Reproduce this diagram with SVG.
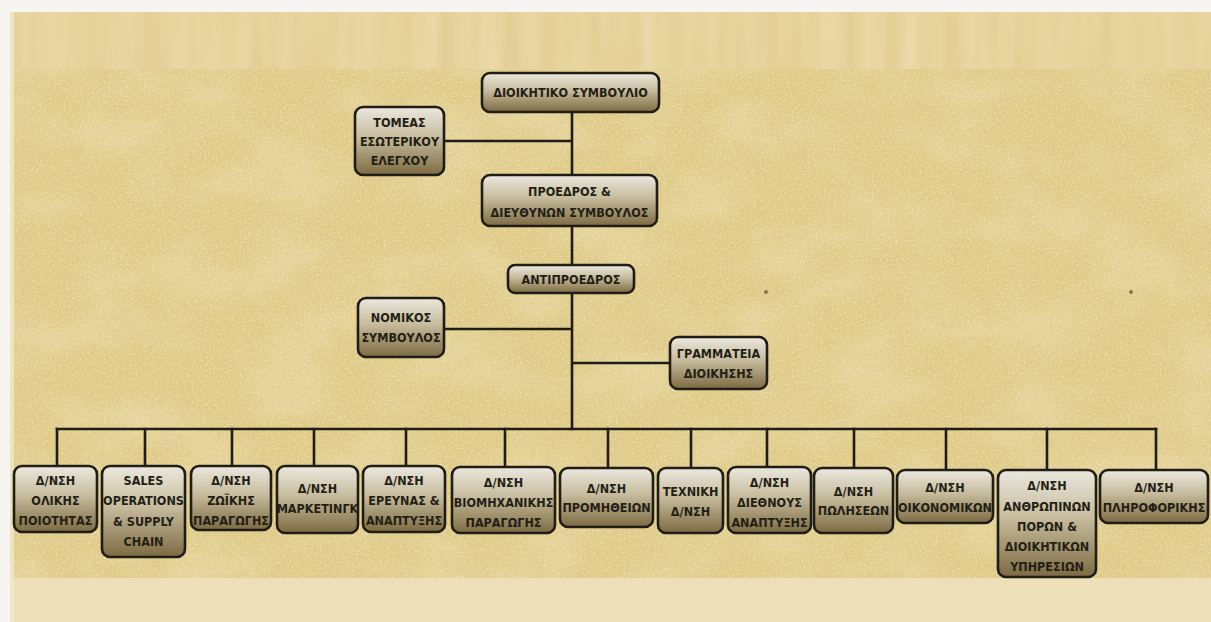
<svg xmlns="http://www.w3.org/2000/svg" width="1211" height="622" viewBox="0 0 1211 622">
<defs>
<linearGradient id="boxg" x1="0" y1="0" x2="0" y2="1">
<stop offset="0" stop-color="#ebe8df"/>
<stop offset="0.45" stop-color="#c6bb9c"/>
<stop offset="1" stop-color="#7d6a42"/>
</linearGradient>
<filter id="grain" x="0" y="0" width="100%" height="100%">
<feTurbulence type="fractalNoise" baseFrequency="0.7" numOctaves="2" seed="4" result="n"/>
<feColorMatrix in="n" type="matrix" values="0 0 0 0 0.8  0 0 0 0 0.67  0 0 0 0 0.26  2.4 0 0 0 -1.05"/>
</filter>
<filter id="grain2" x="0" y="0" width="100%" height="100%">
<feTurbulence type="fractalNoise" baseFrequency="0.5" numOctaves="2" seed="11" result="n"/>
<feColorMatrix in="n" type="matrix" values="0 0 0 0 0.94  0 0 0 0 0.88  0 0 0 0 0.68  0 1.6 0 0 -0.8"/>
</filter>
<filter id="mottle" x="0" y="0" width="100%" height="100%">
<feTurbulence type="fractalNoise" baseFrequency="0.012 0.02" numOctaves="3" seed="9" result="n"/>
<feColorMatrix in="n" type="matrix" values="0 0 0 0 0.93  0 0 0 0 0.87  0 0 0 0 0.7  0.7 0 0 0 -0.3"/>
</filter>
<filter id="streak" x="0" y="0" width="100%" height="100%">
<feTurbulence type="fractalNoise" baseFrequency="0.05 0.004" numOctaves="2" seed="2" result="n"/>
<feColorMatrix in="n" type="matrix" values="0 0 0 0 0.93  0 0 0 0 0.86  0 0 0 0 0.64  0.6 0 0 0 -0.18"/>
</filter>
<style>
.box{fill:url(#boxg);stroke:#1f1d16;stroke-width:2.6}
.t{font-family:"DejaVu Sans Condensed","DejaVu Sans",sans-serif;font-weight:bold;font-size:12.5px;fill:#231f15;text-anchor:middle}
.c{stroke:#1f1d16;stroke-width:2.6;fill:none;stroke-linecap:square}
</style>
</defs>
<!-- background -->
<rect x="0" y="0" width="1211" height="622" fill="#f6f5f1"/>
<rect x="10" y="12" width="1201" height="57" fill="#e4d096"/>
<rect x="10" y="12" width="1201" height="57" filter="url(#streak)"/>
<rect x="10" y="69" width="1201" height="509" fill="#dec98a"/>
<rect x="10" y="69" width="1201" height="509" filter="url(#mottle)"/>
<rect x="10" y="69" width="1201" height="509" filter="url(#grain)"/>
<rect x="10" y="69" width="1201" height="509" filter="url(#grain2)"/>
<rect x="10" y="578" width="1201" height="44" fill="#ede0b8"/>
<rect x="10" y="12" width="4" height="610" fill="#f1e8cc" opacity="0.8"/>
<circle cx="766" cy="292" r="2" fill="#5a4e30" opacity="0.7"/>
<circle cx="1131" cy="292" r="2" fill="#5a4e30" opacity="0.7"/>

<g id="connectors">
<path class="c" d="M572 112V175M572 226V265M572 293V429M444 141H572M444 329H572M572 363H670"/>
<path class="c" d="M57 429H1156"/>
<path class="c" d="M57 429V466M145 429V466M232 429V466M314 429V466M406 429V466M505 429V467M608 429V468M691 429V468M767 429V467M854 429V468M946 429V470M1047 429V470M1156 429V470"/>
</g>

<g id="n1"><rect class="box" x="482" y="73" width="177" height="39" rx="8"/><text class="t" x="570.5" y="97">ΔΙΟΙΚΗΤΙΚΟ ΣΥΜΒΟΥΛΙΟ</text></g>
<g id="n2"><rect class="box" x="355" y="107" width="89" height="68" rx="8"/><text class="t" x="399.5" y="126.5">ΤΟΜΕΑΣ</text><text class="t" x="399.5" y="145.5">ΕΣΩΤΕΡΙΚΟΥ</text><text class="t" x="399.5" y="164.5">ΕΛΕΓΧΟΥ</text></g>
<g id="n3"><rect class="box" x="482" y="175" width="175" height="51" rx="8"/><text class="t" x="569.5" y="195.5">ΠΡΟΕΔΡΟΣ &amp;</text><text class="t" x="569.5" y="216.5">ΔΙΕΥΘΥΝΩΝ ΣΥΜΒΟΥΛΟΣ</text></g>
<g id="n4"><rect class="box" x="508" y="265" width="126" height="28" rx="7"/><text class="t" x="571" y="283.5">ΑΝΤΙΠΡΟΕΔΡΟΣ</text></g>
<g id="n5"><rect class="box" x="358" y="298" width="86" height="59" rx="8"/><text class="t" x="401" y="321.5">ΝΟΜΙΚΟΣ</text><text class="t" x="401" y="341.5">ΣΥΜΒΟΥΛΟΣ</text></g>
<g id="n6"><rect class="box" x="670" y="337" width="97" height="52" rx="8"/><text class="t" x="718.5" y="357.5">ΓΡΑΜΜΑΤΕΙΑ</text><text class="t" x="718.5" y="377.5">ΔΙΟΙΚΗΣΗΣ</text></g>

<g id="b1"><rect class="box" x="14" y="466" width="83" height="66" rx="8"/><text class="t" x="55.5" y="484.5">Δ/ΝΣΗ</text><text class="t" x="55.5" y="505">ΟΛΙΚΗΣ</text><text class="t" x="55.5" y="524.5">ΠΟΙΟΤΗΤΑΣ</text></g>
<g id="b2"><rect class="box" x="102" y="466" width="83" height="91" rx="8"/><text class="t" x="143.5" y="484.5">SALES</text><text class="t" x="143.5" y="505">OPERATIONS</text><text class="t" x="143.5" y="525.5">&amp; SUPPLY</text><text class="t" x="143.5" y="546">CHAIN</text></g>
<g id="b3"><rect class="box" x="191" y="466" width="80" height="64" rx="8"/><text class="t" x="231" y="484.5">Δ/ΝΣΗ</text><text class="t" x="231" y="505">ΖΩΪΚΗΣ</text><text class="t" x="231" y="524.5">ΠΑΡΑΓΩΓΗΣ</text></g>
<g id="b4"><rect class="box" x="277" y="466" width="81" height="67" rx="8"/><text class="t" x="317.5" y="492.5">Δ/ΝΣΗ</text><text class="t" x="317.5" y="512.5">ΜΑΡΚΕΤΙΝΓΚ</text></g>
<g id="b5"><rect class="box" x="363" y="466" width="82" height="66" rx="8"/><text class="t" x="404" y="484.5">Δ/ΝΣΗ</text><text class="t" x="404" y="505">ΕΡΕΥΝΑΣ &amp;</text><text class="t" x="404" y="524.5">ΑΝΑΠΤΥΞΗΣ</text></g>
<g id="b6"><rect class="box" x="452" y="467" width="103" height="66" rx="8"/><text class="t" x="503.5" y="486.5">Δ/ΝΣΗ</text><text class="t" x="503.5" y="506.5">ΒΙΟΜΗΧΑΝΙΚΗΣ</text><text class="t" x="503.5" y="526.5">ΠΑΡΑΓΩΓΗΣ</text></g>
<g id="b7"><rect class="box" x="560" y="468" width="93" height="59" rx="8"/><text class="t" x="606.5" y="492.5">Δ/ΝΣΗ</text><text class="t" x="606.5" y="511.5">ΠΡΟΜΗΘΕΙΩΝ</text></g>
<g id="b8"><rect class="box" x="658" y="468" width="65" height="65" rx="8"/><text class="t" x="690.5" y="495.5">ΤΕΧΝΙΚΗ</text><text class="t" x="690.5" y="515.5">Δ/ΝΣΗ</text></g>
<g id="b9"><rect class="box" x="728" y="467" width="83" height="66" rx="8"/><text class="t" x="769.5" y="486.5">Δ/ΝΣΗ</text><text class="t" x="769.5" y="506.5">ΔΙΕΘΝΟΥΣ</text><text class="t" x="769.5" y="526.5">ΑΝΑΠΤΥΞΗΣ</text></g>
<g id="b10"><rect class="box" x="814" y="468" width="79" height="65" rx="8"/><text class="t" x="853.5" y="495.5">Δ/ΝΣΗ</text><text class="t" x="853.5" y="514.5">ΠΩΛΗΣΕΩΝ</text></g>
<g id="b11"><rect class="box" x="897" y="470" width="96" height="53" rx="8"/><text class="t" x="945" y="491.5">Δ/ΝΣΗ</text><text class="t" x="945" y="511.5">ΟΙΚΟΝΟΜΙΚΩΝ</text></g>
<g id="b12"><rect class="box" x="998" y="470" width="98" height="107" rx="8"/><text class="t" x="1047" y="489.5">Δ/ΝΣΗ</text><text class="t" x="1047" y="510.5">ΑΝΘΡΩΠΙΝΩΝ</text><text class="t" x="1047" y="530.5">ΠΟΡΩΝ &amp;</text><text class="t" x="1047" y="550.5">ΔΙΟΙΚΗΤΙΚΩΝ</text><text class="t" x="1047" y="570.5">ΥΠΗΡΕΣΙΩΝ</text></g>
<g id="b13"><rect class="box" x="1100" y="470" width="108" height="53" rx="8"/><text class="t" x="1154" y="491.5">Δ/ΝΣΗ</text><text class="t" x="1154" y="511.5">ΠΛΗΡΟΦΟΡΙΚΗΣ</text></g>
</svg>
